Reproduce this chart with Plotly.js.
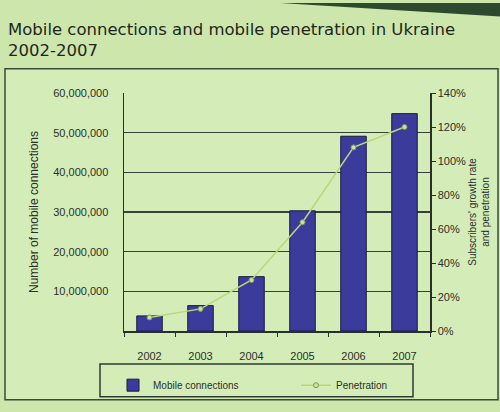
<!DOCTYPE html>
<html><head><meta charset="utf-8">
<script src="https://cdn.plot.ly/plotly-3.0.1.min.js"></script>
<style>html,body{margin:0;padding:0;background:#cde6ab;}#c{width:500px;height:412px;}</style>
</head><body><div id="c"></div>
<script>
const years = ['2002','2003','2004','2005','2006','2007'];
const connections = [3800000, 6400000, 13700000, 30300000, 49100000, 54800000];
const penetration = [8, 13, 30, 64, 108, 120];
const leftTicks = [10000000, 20000000, 30000000, 40000000, 50000000, 60000000];
const leftTickText = ['10,000,000','20,000,000','30,000,000','40,000,000','50,000,000','60,000,000'];
const rightTicks = [0, 20, 40, 60, 80, 100, 120, 140];
const rightTickText = ['0%','20%','40%','60%','80%','100%','120%','140%'];

const W = 500, H = 412, L = 124, R = 70, T = 93, B = 73;
const pw = W - L - R, ph = H - T - B;
const px = x => (x - L) / pw;
const py = y => (H - B - y) / ph;

const font = 'Liberation Sans, Arial, sans-serif';
const traces = [
  {type:'bar', x: years, y: connections, name:'Mobile connections', width:0.5,
   marker:{color:'#3b3b9c', line:{color:'#1a1a40', width:1}}, yaxis:'y'},
  {type:'scatter', mode:'lines+markers', x: years, y: penetration, name:'Penetration', yaxis:'y2',
   line:{color:'#b9d877', width:1.5}, marker:{size:5, color:'#c9e39a', line:{color:'#7f9a55', width:1}}}
];
const layout = {
  width: W, height: H,
  margin:{l:L, r:R, t:T, b:B},
  paper_bgcolor:'#cde6ab', plot_bgcolor:'#d4edb8',
  showlegend:true,
  font:{family:font, color:'#2a2f2a', size:11},
  xaxis:{type:'category', showline:true, linecolor:'#2a2f2a', linewidth:1.5, ticks:'outside', tickson:'boundaries', ticklen:4, tickcolor:'#2a2f2a',
    tickfont:{size:11, family:font}, ticklabelstandoff:14, showgrid:false, zeroline:false},
  yaxis:{range:[0,60000000], tickvals:leftTicks, ticktext:leftTickText, showline:true, linecolor:'#2a2f2a', linewidth:1.5,
    gridcolor:'#34423a', gridwidth:1.6, zeroline:false, ticks:'', tickfont:{size:11, family:font}, ticklabelstandoff:12,
    title:{text:'Number of mobile connections', font:{size:12, family:font}, standoff:12}},
  yaxis2:{range:[0,140], tickvals:rightTicks, ticktext:rightTickText, overlaying:'y', side:'right', showline:true, linecolor:'#2a2f2a', linewidth:1.5,
    showgrid:false, zeroline:false, ticks:'outside', ticklen:4, tickcolor:'#2a2f2a', tickfont:{size:11, family:font},
    title:{text:"Subscribers' growth rate<br>and penetration", font:{size:10, family:font}, standoff:4}},
  legend:{orientation:'h', x:px(113), xanchor:'left', y:py(380), yanchor:'top', bgcolor:'rgba(0,0,0,0)', borderwidth:0,
    entrywidth:138, entrywidthmode:'pixels', font:{size:10, family:font}},
  annotations:[
    {text:'Mobile connections and mobile penetration in Ukraine<br>2002-2007', xref:'paper', yref:'paper', x:px(6), y:py(15),
     xanchor:'left', yanchor:'top', align:'left', showarrow:false, font:{family:'DejaVu Sans, sans-serif', size:16.5, color:'#1f261d'}}
  ],
  shapes:[
    {type:'rect', xref:'paper', yref:'paper', x0:px(5), x1:px(498), y0:py(410), y1:py(68), line:{color:'#3a4a3a', width:1.5}, fillcolor:'#d4edb8', layer:'below'},
    {type:'rect', xref:'paper', yref:'paper', x0:px(100), x1:px(413), y0:py(407), y1:py(373), line:{color:'#2f3b30', width:1.5}, fillcolor:'rgba(0,0,0,0)'},
    {type:'path', xref:'paper', yref:'paper', path:`M ${px(280)} ${py(0)} L ${px(500)} ${py(0)} L ${px(500)} ${py(14)} Z`, fillcolor:'#2e4a2e', line:{width:0}}
  ]
};
Plotly.newPlot('c', traces, layout, {displayModeBar:false, staticPlot:true});
</script></body></html>
